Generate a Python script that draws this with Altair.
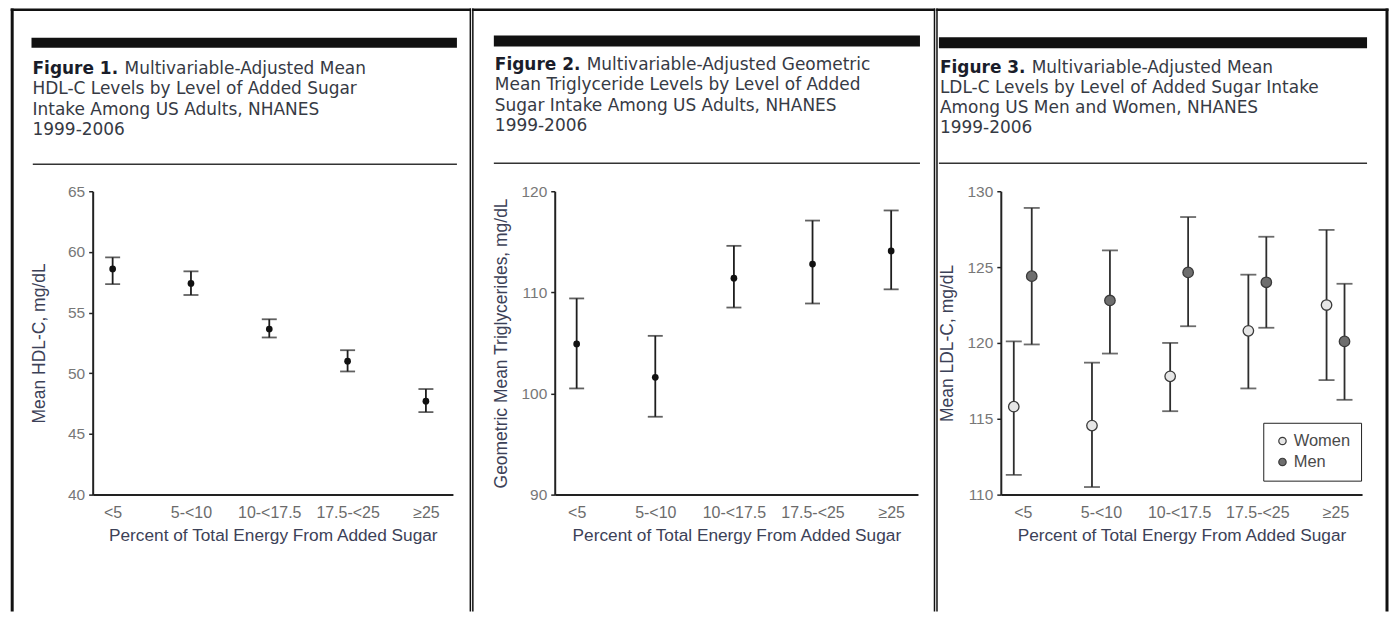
import altair as alt
import pandas as pd

# ---------------- data ----------------
categories = ["<5", "5-<10", "10-<17.5", "17.5-<25", "≥25"]

hdl_mean = [58.6, 57.4, 53.65, 51.0, 47.7]
hdl_low = [57.35, 56.45, 52.95, 50.15, 46.8]
hdl_high = [59.55, 58.4, 54.45, 51.9, 48.7]

tg_mean = [104.9, 101.6, 111.4, 112.8, 114.1]
tg_low = [100.5, 97.7, 108.5, 108.9, 110.3]
tg_high = [109.4, 105.7, 114.6, 117.1, 118.1]

sexes = ["Women", "Men"]
ldl_women_mean = [115.8, 114.55, 117.8, 120.8, 122.5]
ldl_women_low = [111.3, 110.5, 115.5, 117.0, 117.55]
ldl_women_high = [120.1, 118.7, 120.0, 124.5, 127.45]
ldl_men_mean = [124.4, 122.8, 124.65, 124.0, 120.1]
ldl_men_low = [119.9, 119.3, 121.1, 121.0, 116.25]
ldl_men_high = [128.9, 126.1, 128.3, 127.0, 123.9]

fig1_bold = "Figure 1."
fig1_lines = ["Multivariable-Adjusted Mean", "HDL-C Levels by Level of Added Sugar",
              "Intake Among US Adults, NHANES", "1999-2006"]
fig2_bold = "Figure 2."
fig2_lines = ["Multivariable-Adjusted Geometric", "Mean Triglyceride Levels by Level of Added",
              "Sugar Intake Among US Adults, NHANES", "1999-2006"]
fig3_bold = "Figure 3."
fig3_lines = ["Multivariable-Adjusted Mean", "LDL-C Levels by Level of Added Sugar Intake",
              "Among US Men and Women, NHANES", "1999-2006"]

x_title = "Percent of Total Energy From Added Sugar"

# ---------------- style ----------------
TITLE_FONT = "DejaVu Sans"
AXIS_FONT = "Liberation Sans"
TITLE_SIZE = 17
INK = "#1e1e1e"
one = pd.DataFrame({"k": [0]})


def box(x1, x2, y1, y2, color="#111111"):
    return alt.Chart(one).mark_rect(color=color).encode(
        x=alt.value(x1), x2=alt.value(x2), y=alt.value(y1), y2=alt.value(y2))


def words(s, x, y, bold=False):
    return alt.Chart(one).mark_text(
        text=s, align="left", baseline="alphabetic", font=TITLE_FONT,
        fontSize=TITLE_SIZE, fontWeight="bold" if bold else "normal",
        color="#1a1d2a" if bold else "#363a44").encode(x=alt.value(x), y=alt.value(y))


def x_axis():
    return alt.Axis(title=x_title, ticks=False, tickSize=0, labelPadding=23,
                    labelBaseline="alphabetic", labelFont=AXIS_FONT, labelFontSize=16,
                    labelColor="#6b6b6b", labelAngle=0, labelOverlap=False,
                    domainColor="#222222", domainWidth=2, grid=False,
                    titleFont=AXIS_FONT, titleFontSize=17.3, titleFontWeight="normal",
                    titleColor="#3c4157", titleY=46, titleBaseline="alphabetic")


def y_axis(title, values):
    return alt.Axis(title=title, values=values, grid=False, tickSize=4,
                    tickColor="#222222", tickWidth=1.5, labelPadding=4,
                    labelFont=AXIS_FONT, labelFontSize=15.5, labelColor="#777777",
                    labelFlush=False, domainColor="#222222", domainWidth=2,
                    titleFont=AXIS_FONT, titleFontSize=17.5, titleFontWeight="normal",
                    titleColor="#3c4157", titleX=-48.5, titleBaseline="alphabetic")


def decor(left, right, top, bar, sep, bold, lines, tx, rx, baselines):
    layers = [box(left[0], left[1], top[0], 421), box(right[0], right[1], top[0], 421),
              box(left[0], right[1], top[0], top[1]),
              box(bar[0], bar[1], bar[2], bar[3]),
              box(sep[0], sep[1], sep[2], sep[3], color="#333333"),
              words(bold, tx, baselines[0], bold=True),
              words(lines[0], rx, baselines[0])]
    for ln, b in zip(lines[1:], baselines[1:]):
        layers.append(words(ln, tx, b))
    return layers


def simple_panel(mean, low, high, ydom, yvals, ytitle, width, pad, align, deco):
    df = pd.DataFrame({"cat": categories, "mean": mean, "low": low, "high": high})
    x = alt.X("cat:N", sort=categories,
              scale=alt.Scale(type="point", padding=pad, align=align), axis=x_axis())

    def Y(f):
        return alt.Y(f + ":Q", scale=alt.Scale(domain=ydom, nice=False, zero=False),
                     axis=y_axis(ytitle, yvals))

    base = alt.Chart(df)
    rule = base.mark_rule(color=INK, strokeWidth=1.8).encode(x=x, y=Y("low"), y2="high:Q")
    cap_lo = base.mark_tick(color=INK, thickness=1.8, size=15).encode(x=x, y=Y("low"))
    cap_hi = base.mark_tick(color=INK, thickness=1.8, size=15).encode(x=x, y=Y("high"))
    pts = base.mark_circle(color="#111111", size=45, opacity=1).encode(x=x, y=Y("mean"))
    return alt.layer(*deco, rule, cap_lo, cap_hi, pts).properties(width=width, height=304)


def grouped_panel(ydom, yvals, ytitle, width, pad, align, deco):
    rows = []
    for i, c in enumerate(categories):
        rows.append({"cat": c, "sex": "Women", "mean": ldl_women_mean[i],
                     "low": ldl_women_low[i], "high": ldl_women_high[i]})
        rows.append({"cat": c, "sex": "Men", "mean": ldl_men_mean[i],
                     "low": ldl_men_low[i], "high": ldl_men_high[i]})
    df = pd.DataFrame(rows)
    x = alt.X("cat:N", sort=categories,
              scale=alt.Scale(type="point", padding=pad, align=align), axis=x_axis())
    xo = alt.XOffset("sex:N", sort=sexes,
                     scale=alt.Scale(type="point", domain=sexes, range=[-9, 9], padding=0))

    def Y(f):
        return alt.Y(f + ":Q", scale=alt.Scale(domain=ydom, nice=False, zero=False),
                     axis=y_axis(ytitle, yvals))

    base = alt.Chart(df)
    col = "#2e2e2e"
    rule = base.mark_rule(color=col, strokeWidth=1.8).encode(x=x, xOffset=xo, y=Y("low"), y2="high:Q")
    cap_lo = base.mark_tick(color=col, thickness=1.8, size=16).encode(x=x, xOffset=xo, y=Y("low"))
    cap_hi = base.mark_tick(color=col, thickness=1.8, size=16).encode(x=x, xOffset=xo, y=Y("high"))
    pts = base.mark_circle(size=110, stroke="#3a3a3a", strokeWidth=1.3, opacity=1).encode(
        x=x, xOffset=xo, y=Y("mean"),
        fill=alt.Fill("sex:N", sort=sexes,
                      scale=alt.Scale(domain=sexes, range=["#e6e6e6", "#6e6e6e"]),
                      legend=alt.Legend(title=None, orient="none", legendX=263, legendY=232,
                                        strokeColor="#222222", padding=10, symbolOffset=1,
                                        labelOffset=3, rowPadding=4, symbolSize=55,
                                        symbolType="circle", symbolStrokeColor="#3a3a3a",
                                        symbolStrokeWidth=1.2, labelFont=AXIS_FONT,
                                        labelFontSize=16.5, labelColor="#4a4a4a")))
    return alt.layer(*deco, rule, cap_lo, cap_hi, pts).properties(width=width, height=304)


deco1 = decor(left=(-82.15, -79.15), right=(377.7, 379.2), top=(-183, -180.6),
              bar=(-61.3, 365, -153.7, -143.7), sep=(-60, 365, -27.7, -26.3),
              bold=fig1_bold, lines=fig1_lines, tx=-60.3, rx=32,
              baselines=[-117, -97, -76.5, -56])
deco2 = decor(left=(-82.8, -81.3), right=(379.8, 381.3), top=(-183, -180.6),
              bar=(-61, 366, -156, -145), sep=(-61, 366, -28.7, -27.3),
              bold=fig2_bold, lines=fig2_lines, tx=-60, rx=32,
              baselines=[-121, -101, -80.3, -60.3])
deco3 = decor(left=(-64.7, -63.2), right=(385.5, 388.5), top=(-183, -180.6),
              bar=(-62, 367, -154.3, -143.3), sep=(-62, 367, -28.7, -27.3),
              bold=fig3_bold, lines=fig3_lines, tx=-61, rx=31,
              baselines=[-118.3, -98.3, -78.3, -58])

p1 = simple_panel(hdl_mean, hdl_low, hdl_high, [40, 65], [40, 45, 50, 55, 60, 65],
                  "Mean HDL-C, mg/dL", 361, 0.3, 0.425, deco1)
p2 = simple_panel(tg_mean, tg_low, tg_high, [90, 120], [90, 100, 110, 120],
                  "Geometric Mean Triglycerides, mg/dL", 364, 0.31, 0.45, deco2)
p3 = grouped_panel([110, 130], [110, 115, 120, 125, 130], "Mean LDL-C, mg/dL",
                   362, 0.31, 0.453, deco3)

chart = alt.hconcat(p1, p2, p3, spacing=0).resolve_legend(fill="independent").properties(
    padding={"left": 1.85, "top": 0, "right": 0, "bottom": 0},
    background="white",
).configure_view(strokeWidth=0)

chart.save("out.html", embed_options={"renderer": "svg", "actions": False})
